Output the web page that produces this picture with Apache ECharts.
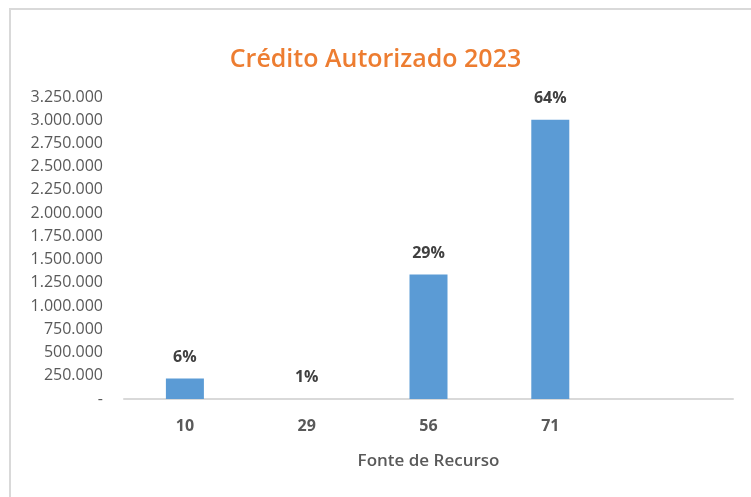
<!DOCTYPE html>
<html>
<head>
<meta charset="utf-8">
<script src="https://cdn.jsdelivr.net/npm/echarts@6/dist/echarts.min.js"></script>
<style>
  html, body { margin: 0; padding: 0; background: #fff; }
  #chart { width: 751px; height: 497px; }
</style>
</head>
<body>
<div id="chart"></div>
<script>
// fonte de recurso -> credito autorizado (R$)
const fontes = ['10', '29', '56', '71', '']
const valores = [220000, 1000, 1340000, 3005000, null]
const rotulos = ['6%', '1%', '29%', '64%', '']

const chart = echarts.init(document.getElementById('chart'))

const fmtNum = v => {
  if (v === 0) return '-'
  return String(v).replace(/\B(?=(\d{3})+(?!\d))/g, '.')
}

const option = {
  backgroundColor: '#fff',
  animation: false,
  textStyle: { fontFamily: 'Open Sans' },
  title: {
    text: 'Crédito Autorizado 2023',
    left: 'center',
    top: 42,
    textStyle: {
      color: '#ED7D31',
      fontSize: 25,
      fontWeight: 600,
      fontFamily: 'Open Sans'
    }
  },
  graphic: [{
    type: 'rect',
    shape: { x: 10, y: 9, width: 760, height: 500 },
    style: { fill: 'none', stroke: '#d9d9d9', lineWidth: 2 },
    silent: true
  }],
  grid: {
    left: 124,
    right: 18,
    top: 97,
    bottom: 98
  },
  xAxis: {
    type: 'category',
    data: fontes,
    name: 'Fonte de Recurso',
    nameLocation: 'middle',
    nameGap: 54,
    nameTextStyle: { color: '#595959', fontSize: 17, fontWeight: 600 },
    axisLine: { lineStyle: { color: '#d9d9d9', width: 2 } },
    axisTick: { show: false },
    axisLabel: { color: '#595959', fontSize: 16, fontWeight: 'bold', margin: 19 }
  },
  yAxis: {
    type: 'value',
    min: 0,
    max: 3250000,
    interval: 250000,
    splitLine: { show: false },
    axisLine: { show: false },
    axisTick: { show: false },
    axisLabel: {
      color: '#595959',
      fontSize: 16,
      margin: 21,
      formatter: fmtNum
    }
  },
  series: [{
    type: 'bar',
    data: valores,
    barWidth: 38,
    itemStyle: { color: '#5B9BD5' },
    label: {
      show: true,
      position: 'top',
      distance: 13,
      color: '#404040',
      fontSize: 16,
      fontWeight: 'bold',
      formatter: p => rotulos[p.dataIndex]
    }
  }]
}

chart.setOption(option)
</script>
</body>
</html>
